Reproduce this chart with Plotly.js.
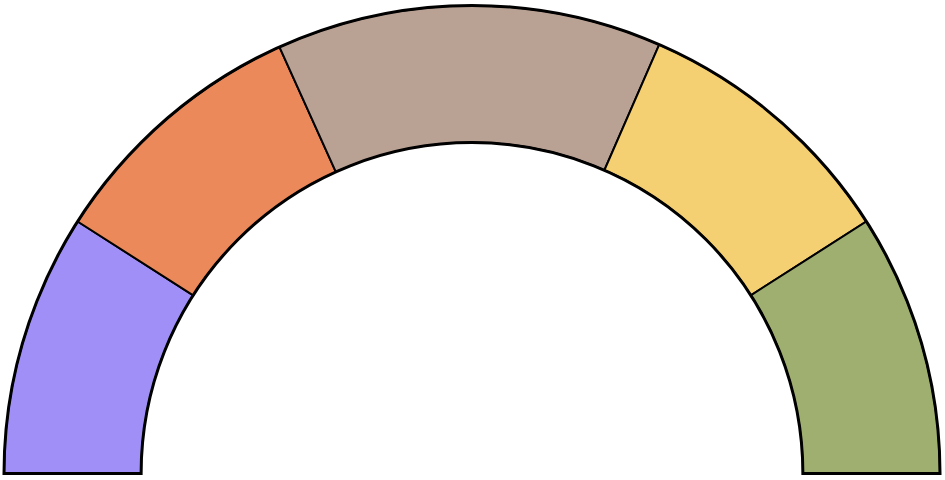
<!DOCTYPE html>
<html>
<head>
<meta charset="utf-8">
<script src="https://cdn.plot.ly/plotly-3.0.1.min.js"></script>
<style>html,body{margin:0;padding:0;background:#fff;}#chart{width:945px;height:480px;}</style>
</head>
<body>
<div id="chart"></div>
<script>
// Segment data (left to right along the half ring)
const categories = ['Segment 1', 'Segment 2', 'Segment 3', 'Segment 4', 'Segment 5'];
const values = [18.1, 18.4, 26.6, 18.8, 18.1];
const colors = ['#9F8FF7', '#EC895B', '#B9A194', '#F5D072', '#9FAF6F'];

const total = values.reduce((a, b) => a + b, 0);
const widths = values.map(v => v / total * 180);
const thetas = [];
let acc = 0;
widths.forEach(w => { thetas.push(acc + w / 2); acc += w; });

const trace = {
  type: 'barpolar',
  r: values.map(() => 1),
  theta: thetas,
  width: widths,
  text: categories,
  marker: { color: colors, line: { color: '#000', width: 2 } },
  hoverinfo: 'text'
};

const layout = {
  width: 945, height: 480,
  margin: { l: 4, r: 5, t: 5, b: 6 },
  paper_bgcolor: '#fff',
  showlegend: false,
  polar: {
    domain: { x: [0, 1], y: [0, 1] },
    sector: [0, 180],
    hole: 0.707,
    bgcolor: 'rgba(0,0,0,0)',
    bargap: 0,
    radialaxis: { visible: false, range: [0, 1] },
    angularaxis: {
      direction: 'clockwise', rotation: 180,
      showgrid: false, showticklabels: false, ticks: '',
      showline: true, linecolor: '#000', linewidth: 3
    }
  }
};

Plotly.newPlot('chart', [trace], layout, { displayModeBar: false, staticPlot: true });
</script>
</body>
</html>
